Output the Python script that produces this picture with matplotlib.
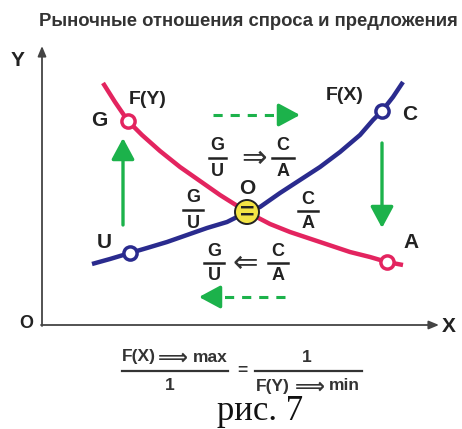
import matplotlib.pyplot as plt
from matplotlib.patches import Circle

# Points (pixel coordinates, y grows downwards)
supply_x = [92, 110, 130, 147, 167, 187, 207, 227, 247, 260, 280, 300, 320, 340, 360, 373, 382, 393, 403]
supply_y = [264, 259, 253, 248, 242, 235, 228, 222, 212, 207, 193, 180, 167, 152, 135, 120, 111, 97, 82]
demand_x = [103, 115, 128, 142, 160, 180, 200, 220, 247, 270, 290, 320, 350, 370, 387, 403]
demand_y = [83, 102, 121, 135, 151, 167, 181, 195, 212, 224, 232, 242, 252, 257, 262, 265]

# labelled points
point_names = ['G', 'C', 'U', 'A']
point_x = [128, 382, 130, 387]
point_y = [121, 111, 253, 262]
equilibrium = (247, 212)

RED = '#e3245f'
BLUE = '#2a2b8e'
GREEN = '#1cb24b'
YELLOW = '#f3e445'
AXIS = '#444444'
SANS = ['Liberation Sans', 'DejaVu Sans']

fig = plt.figure(figsize=(4.62, 4.29), dpi=100)
ax = fig.add_axes([0, 0, 1, 1])
ax.set_xlim(0, 462)
ax.set_ylim(429, 0)
ax.axis('off')


def label(x, y, s, size=13, family=SANS, weight='bold', color='#222222', **kw):
    ax.text(x, y, s, fontsize=size, fontweight=weight, family=family,
            ha='center', va='center', color=color, **kw)


def frac(x, y, top, bottom, size=13, width=20, gap=12):
    label(x, y - gap, top, size)
    label(x, y + gap + 1, bottom, size)
    ax.plot([x - width / 2, x + width / 2], [y, y], color='#222222', lw=1.8)


# title
label(248, 21, 'Рыночные отношения спроса и предложения', 13.3, color='#333333')

# axes
ax.annotate('', xy=(42, 46), xytext=(42, 326),
            arrowprops=dict(arrowstyle='-|>,head_length=0.6,head_width=0.25',
                            color=AXIS, lw=1.3, shrinkA=0, shrinkB=0))
ax.annotate('', xy=(439, 325), xytext=(41, 325),
            arrowprops=dict(arrowstyle='-|>,head_length=0.6,head_width=0.25',
                            color=AXIS, lw=1.3, shrinkA=0, shrinkB=0))
label(18, 61, 'Y', 15)
label(449, 326, 'X', 15)
label(26, 323, 'O', 13)

# curves
ax.plot(demand_x, demand_y, color=RED, lw=3.2, solid_capstyle='butt',
        solid_joinstyle='round', zorder=3)
ax.plot(supply_x, supply_y, color=BLUE, lw=3.2, solid_capstyle='butt',
        solid_joinstyle='round', zorder=3)

point_colors = [RED, BLUE, BLUE, RED]
for px, py, c in zip(point_x, point_y, point_colors):
    ax.plot(px, py, 'o', ms=9.5, mfc='white', mec=c, mew=2.5, zorder=4)

# equilibrium point
ax.add_patch(Circle(equilibrium, 12, facecolor=YELLOW, edgecolor='#222222',
                    lw=1.4, zorder=5))
label(equilibrium[0], equilibrium[1] + 1, '=', 18, zorder=6)

# point labels
label(99, 120, 'G', 15)
label(148, 99, 'F(Y)', 14)
label(345, 95, 'F(X)', 14)
label(410, 114, 'C', 15)
label(104, 242, 'U', 15)
label(411, 243, 'A', 15)
label(247, 189, 'O', 15)

# fractions
frac(217, 158, 'G', 'U', width=17)
label(254, 158, '⇒', 22, family=['DejaVu Sans'], weight='normal', color='#333333')
frac(283, 158, 'C', 'A', width=22)
frac(193, 210, 'G', 'U')
frac(308, 211, 'C', 'A')
frac(214, 263, 'G', 'U')
label(245, 263, '⇐', 22, family=['DejaVu Sans'], weight='normal', color='#333333')
frac(278, 263, 'C', 'A')

# green arrows
head = dict(arrowstyle='-|>,head_length=1.3,head_width=0.7', color=GREEN,
            lw=2.4, shrinkA=0, shrinkB=0)
ax.annotate('', xy=(123, 138), xytext=(123, 225), arrowprops=head)
ax.annotate('', xy=(382, 228), xytext=(382, 143), arrowprops=head)
# dashed shafts with solid heads
ax.plot([213, 284], [115, 115], color=GREEN, lw=2.2, dashes=(3, 2.6),
        solid_capstyle='butt', dash_capstyle='butt')
ax.annotate('', xy=(300, 115), xytext=(282, 115), arrowprops=head)
ax.plot([285, 214], [297, 297], color=GREEN, lw=2.2, dashes=(3, 2.6),
        dash_capstyle='butt')
ax.annotate('', xy=(199, 297), xytext=(217, 297), arrowprops=head)

# bottom formula
INK = '#333333'
label(139, 357, 'F(X)', 12.5, color=INK)
label(173, 358, '⟹', 15, family=['DejaVu Sans'], color=INK)
label(210, 357, 'max', 12.5, color=INK)
ax.plot([122, 228], [371, 371], color=INK, lw=1.6)
label(170, 386, '1', 12.5, color=INK)
label(242, 371, '=', 12.5, color=INK)
label(307, 357, '1', 12.5, color=INK)
ax.plot([255, 362], [371, 371], color=INK, lw=1.6)
label(273, 386, 'F(Y)', 12.5, color=INK)
label(310, 387, '⟹', 15, family=['DejaVu Sans'], color=INK)
label(344, 386, 'min', 12.5, color=INK)

ax.text(260, 412, 'рис. 7', fontsize=25, family=['Liberation Serif', 'DejaVu Serif'],
        ha='center', va='center', color='#111111')

fig.savefig('out.png', dpi=100)
